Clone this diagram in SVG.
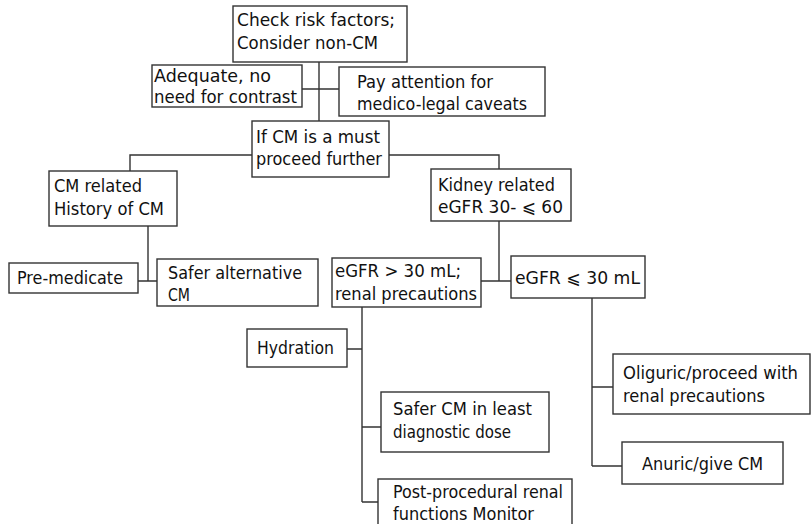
<svg xmlns="http://www.w3.org/2000/svg" width="811" height="524" viewBox="0 0 811 524">
<style>
rect{fill:#fff;stroke:#333;stroke-width:1.4}
text{font-family:"DejaVu Sans",Verdana,sans-serif;font-size:17.5px;fill:#111}
.c{fill:none;stroke:#333;stroke-width:1.4}
</style>
<rect x="0" y="0" width="811" height="524" style="stroke:none"/>
<g id="connectors">
<path class="c" d="M319 62V121M302 89H339M130 171V155H252M389 155H499V169M148 226V281M138 281H157M499 221V281M481 281H511M362 307V502M347 349H362M362 427H381M362 502H378M592 298V466M592 387H613M592 466H622"/>
</g>
<g id="n1"><rect x="233" y="6" width="174" height="56"/><text x="237" y="26" textLength="158" lengthAdjust="spacingAndGlyphs">Check risk factors;</text><text x="237" y="49" textLength="141" lengthAdjust="spacingAndGlyphs">Consider non-CM</text></g>
<g id="n2"><rect x="152" y="65" width="150" height="42"/><text x="154" y="82" textLength="117" lengthAdjust="spacingAndGlyphs">Adequate, no</text><text x="154" y="103" textLength="143" lengthAdjust="spacingAndGlyphs">need for contrast</text></g>
<g id="n3"><rect x="339" y="67" width="206" height="49"/><text x="357" y="88" textLength="136" lengthAdjust="spacingAndGlyphs">Pay attention for</text><text x="357" y="110" textLength="170" lengthAdjust="spacingAndGlyphs">medico-legal caveats</text></g>
<g id="n4"><rect x="252" y="121" width="137" height="56"/><text x="256" y="143" textLength="124" lengthAdjust="spacingAndGlyphs">If CM is a must</text><text x="256" y="165" textLength="126" lengthAdjust="spacingAndGlyphs">proceed further</text></g>
<g id="n5"><rect x="49" y="171" width="128" height="55"/><text x="54" y="192" textLength="88" lengthAdjust="spacingAndGlyphs">CM related</text><text x="54" y="215" textLength="110" lengthAdjust="spacingAndGlyphs">History of CM</text></g>
<g id="n6"><rect x="431" y="169" width="140" height="52"/><text x="438" y="191" textLength="117" lengthAdjust="spacingAndGlyphs">Kidney related</text><text x="438" y="213" textLength="125" lengthAdjust="spacingAndGlyphs">eGFR 30- ⩽ 60</text></g>
<g id="n7"><rect x="9" y="263" width="129" height="30"/><text x="17" y="284" textLength="106" lengthAdjust="spacingAndGlyphs">Pre-medicate</text></g>
<g id="n8"><rect x="157" y="259" width="161" height="47"/><text x="168" y="279" textLength="134" lengthAdjust="spacingAndGlyphs">Safer alternative</text><text x="168" y="301" textLength="22" lengthAdjust="spacingAndGlyphs">CM</text></g>
<g id="n9"><rect x="332" y="258" width="149" height="49"/><text x="335" y="277" textLength="126" lengthAdjust="spacingAndGlyphs">eGFR &gt; 30 mL;</text><text x="335" y="300" textLength="142" lengthAdjust="spacingAndGlyphs">renal precautions</text></g>
<g id="n10"><rect x="511" y="256" width="134" height="42"/><text x="515" y="284" textLength="125" lengthAdjust="spacingAndGlyphs">eGFR ⩽ 30 mL</text></g>
<g id="n11"><rect x="247" y="329" width="100" height="38"/><text x="257" y="354" textLength="77" lengthAdjust="spacingAndGlyphs">Hydration</text></g>
<g id="n12"><rect x="381" y="392" width="168" height="60"/><text x="393" y="415" textLength="139" lengthAdjust="spacingAndGlyphs">Safer CM in least</text><text x="393" y="438" textLength="118" lengthAdjust="spacingAndGlyphs">diagnostic dose</text></g>
<g id="n13"><rect x="378" y="479" width="194" height="55"/><text x="393" y="498" textLength="170" lengthAdjust="spacingAndGlyphs">Post-procedural renal</text><text x="393" y="520" textLength="141" lengthAdjust="spacingAndGlyphs">functions Monitor</text></g>
<g id="n14"><rect x="613" y="354" width="197" height="60"/><text x="623" y="379" textLength="175" lengthAdjust="spacingAndGlyphs">Oliguric/proceed with</text><text x="623" y="402" textLength="142" lengthAdjust="spacingAndGlyphs">renal precautions</text></g>
<g id="n15"><rect x="622" y="442" width="161" height="42"/><text x="642" y="470" textLength="121" lengthAdjust="spacingAndGlyphs">Anuric/give CM</text></g>
</svg>
